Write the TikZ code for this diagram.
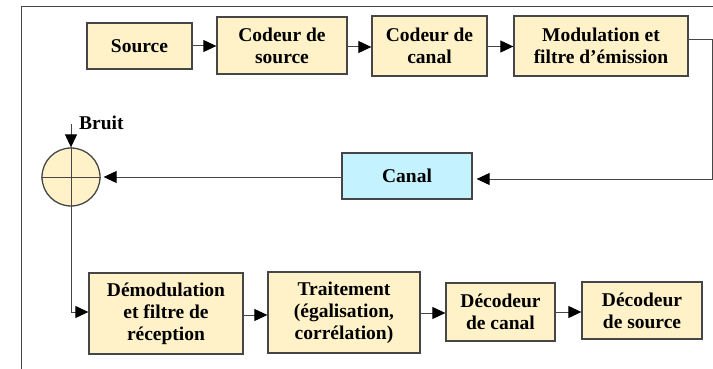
\documentclass[tikz,border=0pt]{standalone}
\usepackage{fontspec}
\setmainfont{Liberation Serif}
\usetikzlibrary{arrows.meta,positioning}
\definecolor{BoxYellow}{RGB}{255,242,200}
\definecolor{BoxCyan}{RGB}{196,242,255}
\definecolor{LineGray}{RGB}{70,70,70}

\begin{document}
\begin{tikzpicture}[x=1pt,y=-1pt,
  b/.style={rectangle,draw=LineGray,line width=1.3pt,fill=BoxYellow,align=center,
    font=\fontsize{19.5}{22}\selectfont\bfseries,inner sep=0pt},
  a/.style={-{Triangle[length=13pt,width=12pt,color=black]},draw=LineGray,line width=1pt},
  w/.style={draw=LineGray,line width=1pt}
]
  \useasboundingbox (0,0) rectangle (713,369);
  \draw[w] (713,7) -- (21,7) -- (21,369);

  \node[b,minimum width=105,minimum height=46] (src) at (139.5,46) {Source};
  \node[b,minimum width=130,minimum height=57] (cs) at (282,45.5) {Codeur de\\source};
  \node[b,minimum width=115,minimum height=60] (cc) at (429.5,46) {Codeur de\\canal};
  \node[b,minimum width=174,minimum height=60] (mod) at (601,46) {Modulation et\\filtre d'émission};
  \node[b,fill=BoxCyan,minimum width=130,minimum height=46] (canal) at (407,176) {Canal};
  \node[circle,draw=LineGray,line width=1.3pt,fill=BoxYellow,minimum size=58,inner sep=0pt] (sum) at (71,177) {};
  \node[b,minimum width=154,minimum height=81] (dem) at (166,313.5) {Démodulation\\et filtre de\\réception};
  \node[b,minimum width=152,minimum height=81] (trt) at (344,312.5) {Traitement\\(égalisation,\\corrélation)};
  \node[b,minimum width=109,minimum height=58] (dc) at (500.5,312) {Décodeur\\de canal};
  \node[b,minimum width=120,minimum height=57] (ds) at (642,310.5) {Décodeur\\de source};

  \draw[w] (sum.north) -- (sum.south);
  \draw[w] (sum.west) -- (sum.east);
  \coordinate (nz) at (71,124);
  \node[font=\fontsize{19.5}{22}\selectfont\bfseries,anchor=west,inner sep=0pt] (bruit) at (79,123) {Bruit};

  \draw[a] (src.east |- 0,46) -- (cs.west |- 0,46);
  \draw[a] (cs.east |- 0,47) -- (cc.west |- 0,47);
  \draw[a] (cc.east |- 0,46.5) -- (mod.west |- 0,46.5);
  \draw[a] (mod.east |- 0,40) -| (712,179) -- ([xshift=4]canal.east |- 0,179);
  \draw[a] (canal.west |- 0,177) -- ([xshift=3]sum.east);
  \draw[a] (nz) -- (sum.north);
  \draw[a] (sum.south) |- (dem.west |- 0,312);
  \draw[a] (dem.east |- 0,315) -- (trt.west |- 0,315);
  \draw[a] (trt.east |- 0,313) -- (dc.west |- 0,313);
  \draw[a] (dc.east |- 0,312) -- (ds.west |- 0,312);
\end{tikzpicture}
\end{document}
